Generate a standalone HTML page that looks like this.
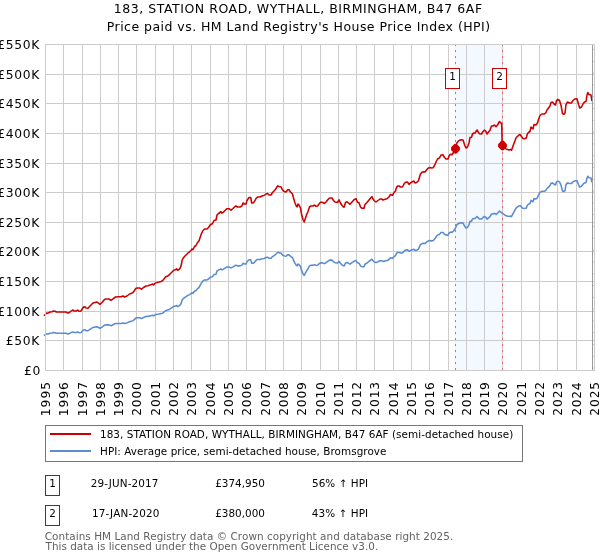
<!DOCTYPE html>
<html lang="en"><head><meta charset="utf-8"><title>183, STATION ROAD, WYTHALL, BIRMINGHAM, B47 6AF</title>
<style>html,body{margin:0;padding:0;background:#fff;}body{width:600px;height:560px;overflow:hidden;}svg{display:block;}text{font-family:"DejaVu Sans", "Liberation Sans", sans-serif;fill:#000;white-space:pre;}</style>
</head><body>
<svg width="600" height="560" viewBox="0 0 600 560">
<rect x="0" y="0" width="600" height="560" fill="#ffffff"/>
<rect x="455" y="45" width="47" height="325" fill="#f4f8ff"/>
<path d="M63.5 44 V371 M82.5 44 V371 M100.5 44 V371 M118.5 44 V371 M136.5 44 V371 M155.5 44 V371 M173.5 44 V371 M191.5 44 V371 M210.5 44 V371 M228.5 44 V371 M246.5 44 V371 M265.5 44 V371 M283.5 44 V371 M301.5 44 V371 M320.5 44 V371 M338.5 44 V371 M356.5 44 V371 M374.5 44 V371 M393.5 44 V371 M411.5 44 V371 M429.5 44 V371 M448.5 44 V371 M466.5 44 V371 M484.5 44 V371 M502.5 44 V371 M521.5 44 V371 M539.5 44 V371 M557.5 44 V371 M576.5 44 V371 M45 340.5 H595 M45 311.5 H595 M45 281.5 H595 M45 251.5 H595 M45 222.5 H595 M45 192.5 H595 M45 163.5 H595 M45 133.5 H595 M45 103.5 H595 M45 74.5 H595" stroke="#cccccc" stroke-width="1" fill="none"/>
<path d="M455.50 43.95 V370" stroke="#f3666d" stroke-width="1" stroke-dasharray="2.2 3.8" fill="none"/>
<path d="M502.50 43.95 V370" stroke="#f3666d" stroke-width="1" stroke-dasharray="2.2 3.8" fill="none"/>
<path d="M44.50 335.23 L46.50 333.82 L48.00 333.95 L50.00 333.18 L52.00 333.05 L53.50 332.54 L55.00 332.67 L56.50 333.18 L60.00 333.18 L66.00 333.18 L68.00 333.95 L70.00 333.18 L72.50 331.90 L74.00 332.54 L76.50 332.54 L77.50 331.90 L79.00 332.67 L81.00 332.54 L83.50 329.97 L85.00 329.85 L86.00 330.62 L88.00 330.74 L90.00 329.33 L93.00 327.41 L95.00 327.03 L97.00 326.77 L98.50 327.54 L100.00 328.24 L102.00 327.09 L104.50 325.17 L106.00 324.85 L109.00 324.85 L111.00 325.68 L113.00 324.72 L115.50 323.56 L118.00 323.44 L121.00 323.44 L123.00 322.92 L124.50 323.56 L127.00 322.92 L129.50 321.64 L131.00 321.38 L133.00 320.68 L134.50 319.40 L136.00 317.92 L137.50 317.79 L139.50 317.79 L141.50 318.56 L143.50 317.47 L146.00 316.51 L148.00 316.38 L150.00 315.87 L151.50 315.55 L152.50 315.23 L153.50 315.81 L155.00 314.85 L157.00 314.21 L159.00 313.95 L161.00 313.63 L162.50 313.18 L164.00 312.03 L165.50 310.74 L167.00 310.23 L168.50 309.85 L170.00 308.82 L172.00 307.54 L174.00 306.26 L175.50 306.13 L176.50 305.49 L177.50 306.45 L179.00 305.94 L180.50 304.65 L181.50 302.41 L182.00 300.17 L183.00 298.88 L184.50 297.60 L186.00 296.64 L188.00 295.36 L189.50 294.59 L191.00 293.76 L192.00 292.79 L193.00 293.31 L194.50 291.19 L196.00 290.55 L197.50 288.63 L199.00 287.60 L200.00 285.62 L201.50 282.86 L203.00 280.94 L204.50 279.97 L207.00 279.97 L208.50 279.01 L210.50 277.09 L212.50 276.64 L214.00 274.53 L216.00 274.21 L217.00 271.00 L218.50 270.04 L220.00 269.40 L220.80 268.76 L221.80 269.85 L223.00 269.40 L225.00 268.12 L227.00 266.96 L229.00 266.96 L231.00 267.92 L233.00 266.83 L235.00 265.55 L236.00 265.23 L237.50 265.87 L240.00 265.87 L242.00 265.10 L243.00 263.31 L244.50 263.95 L246.00 263.95 L247.00 261.71 L249.00 259.78 L250.70 259.78 L251.70 263.31 L253.00 263.31 L254.50 262.35 L256.00 260.42 L257.50 259.46 L260.00 259.46 L262.00 258.82 L264.00 258.50 L266.00 257.54 L267.50 257.22 L269.00 258.18 L271.00 258.18 L272.50 256.58 L274.50 255.29 L276.00 254.01 L277.80 252.28 L279.50 252.92 L281.00 252.92 L282.00 254.33 L283.50 255.62 L285.50 256.26 L286.50 255.94 L287.50 254.85 L289.00 254.85 L290.50 256.26 L292.50 257.54 L293.50 260.10 L295.00 263.31 L296.50 265.55 L297.30 265.74 L298.00 263.95 L299.00 264.59 L300.50 266.51 L301.50 270.36 L303.00 273.88 L304.20 275.49 L305.50 272.92 L306.50 271.00 L308.00 268.76 L309.50 265.87 L311.00 265.23 L313.00 265.23 L314.50 264.59 L316.00 265.42 L317.50 265.23 L319.00 263.95 L320.50 262.86 L322.50 262.86 L324.50 263.63 L326.00 262.67 L328.00 261.06 L329.50 260.10 L332.00 260.10 L333.50 261.71 L335.00 262.67 L337.50 262.99 L339.00 261.26 L340.50 263.31 L342.00 264.91 L344.00 266.06 L345.50 262.99 L347.00 262.54 L348.50 263.31 L350.00 264.14 L352.00 262.67 L354.00 261.26 L356.00 260.55 L357.50 262.86 L359.00 263.18 L360.50 265.87 L361.80 266.71 L364.00 266.71 L365.00 264.27 L367.00 262.99 L369.00 261.38 L371.00 259.78 L372.00 259.27 L373.00 260.74 L374.00 261.71 L376.00 262.67 L378.00 261.71 L380.00 260.74 L381.50 260.74 L383.00 261.38 L385.00 260.94 L387.00 260.55 L389.00 259.46 L390.50 257.86 L392.50 258.37 L394.00 256.58 L395.50 255.62 L396.50 253.37 L397.50 252.41 L399.00 252.41 L400.50 253.05 L402.50 253.05 L404.00 251.13 L405.50 250.04 L407.50 249.85 L409.00 251.32 L411.00 250.17 L413.00 249.53 L414.00 249.21 L415.00 250.49 L417.00 249.97 L418.50 249.08 L419.50 246.64 L420.50 244.72 L422.00 243.56 L423.50 243.31 L425.00 243.44 L426.50 242.15 L428.00 241.06 L430.00 240.55 L431.50 240.87 L433.00 240.74 L434.50 239.27 L436.00 237.03 L437.50 235.10 L439.50 234.33 L441.00 232.54 L443.00 232.41 L444.50 234.14 L446.00 235.10 L448.00 235.10 L449.00 233.18 L450.50 232.09 L452.00 232.35 L453.50 230.94 L455.30 228.44 L456.70 224.97 L458.30 223.69 L459.80 223.05 L461.20 222.79 L463.00 222.92 L464.00 224.85 L465.00 226.77 L466.00 228.05 L467.50 227.41 L469.00 224.85 L470.00 221.32 L471.50 221.19 L472.50 219.08 L474.00 218.44 L475.00 218.44 L477.00 216.51 L478.50 218.12 L479.50 218.95 L481.50 219.08 L483.00 217.47 L484.50 216.51 L486.00 217.47 L487.00 219.08 L488.50 217.79 L490.00 216.71 L491.50 213.95 L493.00 213.95 L494.50 213.31 L496.00 214.40 L497.50 213.31 L499.50 211.06 L501.00 212.03 L501.70 212.79 L504.00 214.36 L506.00 215.76 L509.00 216.45 L510.50 216.10 L511.50 216.66 L513.00 213.66 L514.50 210.86 L516.00 208.06 L517.50 206.87 L519.00 205.97 L520.00 205.62 L521.50 207.01 L523.00 208.34 L524.50 208.55 L526.30 208.06 L527.30 205.27 L528.50 204.22 L530.00 203.52 L531.00 200.37 L532.50 201.42 L533.00 201.77 L534.00 198.62 L536.00 198.97 L537.50 197.57 L538.50 195.13 L540.00 192.33 L542.00 191.28 L544.50 191.28 L546.00 190.23 L547.00 188.48 L548.50 187.08 L550.00 185.69 L551.00 183.24 L552.50 182.89 L554.00 184.29 L555.50 184.99 L556.50 181.84 L558.00 181.14 L559.50 181.84 L561.00 185.13 L562.50 191.00 L563.70 191.49 L565.00 190.72 L566.00 184.64 L567.60 182.89 L569.30 183.59 L571.30 183.59 L573.00 181.84 L574.70 180.79 L577.00 180.65 L578.50 184.50 L579.70 187.08 L581.50 186.38 L583.00 184.29 L584.50 182.89 L586.00 182.54 L587.00 177.99 L587.80 176.24 L589.00 177.64 L591.00 177.99 L591.80 181.70" stroke="#598cd0" stroke-width="1.55" fill="none" stroke-linejoin="round" stroke-linecap="square"/>
<path d="M44.50 315.20 L46.50 313.00 L48.00 313.20 L50.00 312.00 L52.00 311.80 L53.50 311.00 L55.00 311.20 L56.50 312.00 L60.00 312.00 L66.00 312.00 L68.00 313.20 L70.00 312.00 L72.50 310.00 L74.00 311.00 L76.50 311.00 L77.50 310.00 L79.00 311.20 L81.00 311.00 L83.50 307.00 L85.00 306.80 L86.00 308.00 L88.00 308.20 L90.00 306.00 L93.00 303.00 L95.00 302.40 L97.00 302.00 L98.50 303.20 L100.00 304.30 L102.00 302.50 L104.50 299.50 L106.00 299.00 L109.00 299.00 L111.00 300.30 L113.00 298.80 L115.50 297.00 L118.00 296.80 L121.00 296.80 L123.00 296.00 L124.50 297.00 L127.00 296.00 L129.50 294.00 L131.00 293.60 L133.00 292.50 L134.50 290.50 L136.00 288.20 L137.50 288.00 L139.50 288.00 L141.50 289.20 L143.50 287.50 L146.00 286.00 L148.00 285.80 L150.00 285.00 L151.50 284.50 L152.50 284.00 L153.50 284.90 L155.00 283.40 L157.00 282.40 L159.00 282.00 L161.00 281.50 L162.50 280.80 L164.00 279.00 L165.50 277.00 L167.00 276.20 L168.50 275.60 L170.00 274.00 L172.00 272.00 L174.00 270.00 L175.50 269.80 L176.50 268.80 L177.50 270.30 L179.00 269.50 L180.50 267.50 L181.50 264.00 L182.00 260.50 L183.00 258.50 L184.50 256.50 L186.00 255.00 L188.00 253.00 L189.50 251.80 L191.00 250.50 L192.00 249.00 L193.00 249.80 L194.50 246.50 L196.00 245.50 L197.50 242.50 L199.00 240.90 L200.00 237.80 L201.50 233.50 L203.00 230.50 L204.50 229.00 L207.00 229.00 L208.50 227.50 L210.50 224.50 L212.50 223.80 L214.00 220.50 L216.00 220.00 L217.00 215.00 L218.50 213.50 L220.00 212.50 L220.80 211.50 L221.80 213.20 L223.00 212.50 L225.00 210.50 L227.00 208.70 L229.00 208.70 L231.00 210.20 L233.00 208.50 L235.00 206.50 L236.00 206.00 L237.50 207.00 L240.00 207.00 L242.00 205.80 L243.00 203.00 L244.50 204.00 L246.00 204.00 L247.00 200.50 L249.00 197.50 L250.70 197.50 L251.70 203.00 L253.00 203.00 L254.50 201.50 L256.00 198.50 L257.50 197.00 L260.00 197.00 L262.00 196.00 L264.00 195.50 L266.00 194.00 L267.50 193.50 L269.00 195.00 L271.00 195.00 L272.50 192.50 L274.50 190.50 L276.00 188.50 L277.80 185.80 L279.50 186.80 L281.00 186.80 L282.00 189.00 L283.50 191.00 L285.50 192.00 L286.50 191.50 L287.50 189.80 L289.00 189.80 L290.50 192.00 L292.50 194.00 L293.50 198.00 L295.00 203.00 L296.50 206.50 L297.30 206.80 L298.00 204.00 L299.00 205.00 L300.50 208.00 L301.50 214.00 L303.00 219.50 L304.20 222.00 L305.50 218.00 L306.50 215.00 L308.00 211.50 L309.50 207.00 L311.00 206.00 L313.00 206.00 L314.50 205.00 L316.00 206.30 L317.50 206.00 L319.00 204.00 L320.50 202.30 L322.50 202.30 L324.50 203.50 L326.00 202.00 L328.00 199.50 L329.50 198.00 L332.00 198.00 L333.50 200.50 L335.00 202.00 L337.50 202.50 L339.00 199.80 L340.50 203.00 L342.00 205.50 L344.00 207.30 L345.50 202.50 L347.00 201.80 L348.50 203.00 L350.00 204.30 L352.00 202.00 L354.00 199.80 L356.00 198.70 L357.50 202.30 L359.00 202.80 L360.50 207.00 L361.80 208.30 L364.00 208.30 L365.00 204.50 L367.00 202.50 L369.00 200.00 L371.00 197.50 L372.00 196.70 L373.00 199.00 L374.00 200.50 L376.00 202.00 L378.00 200.50 L380.00 199.00 L381.50 199.00 L383.00 200.00 L385.00 199.30 L387.00 198.70 L389.00 197.00 L390.50 194.50 L392.50 195.30 L394.00 192.50 L395.50 191.00 L396.50 187.50 L397.50 186.00 L399.00 186.00 L400.50 187.00 L402.50 187.00 L404.00 184.00 L405.50 182.30 L407.50 182.00 L409.00 184.30 L411.00 182.50 L413.00 181.50 L414.00 181.00 L415.00 183.00 L417.00 182.20 L418.50 180.80 L419.50 177.00 L420.50 174.00 L422.00 172.20 L423.50 171.80 L425.00 172.00 L426.50 170.00 L428.00 168.30 L430.00 167.50 L431.50 168.00 L433.00 167.80 L434.50 165.50 L436.00 162.00 L437.50 159.00 L439.50 157.80 L441.00 155.00 L443.00 154.80 L444.50 157.50 L446.00 159.00 L448.00 159.00 L449.00 156.00 L450.50 154.30 L452.00 154.70 L453.50 152.50 L455.30 148.60 L456.70 143.20 L458.30 141.20 L459.80 140.20 L461.20 139.80 L463.00 140.00 L464.00 143.00 L465.00 146.00 L466.00 148.00 L467.50 147.00 L469.00 143.00 L470.00 137.50 L471.50 137.30 L472.50 134.00 L474.00 133.00 L475.00 133.00 L477.00 130.00 L478.50 132.50 L479.50 133.80 L481.50 134.00 L483.00 131.50 L484.50 130.00 L486.00 131.50 L487.00 134.00 L488.50 132.00 L490.00 130.30 L491.50 126.00 L493.00 126.00 L494.50 125.00 L496.00 126.70 L497.50 125.00 L499.50 121.50 L501.00 123.00 L501.70 124.20 L502.10 141.00 L502.50 145.30 L504.00 147.00 L506.00 149.00 L509.00 150.00 L510.50 149.50 L511.50 150.30 L513.00 146.00 L514.50 142.00 L516.00 138.00 L517.50 136.30 L519.00 135.00 L520.00 134.50 L521.50 136.50 L523.00 138.40 L524.50 138.70 L526.30 138.00 L527.30 134.00 L528.50 132.50 L530.00 131.50 L531.00 127.00 L532.50 128.50 L533.00 129.00 L534.00 124.50 L536.00 125.00 L537.50 123.00 L538.50 119.50 L540.00 115.50 L542.00 114.00 L544.50 114.00 L546.00 112.50 L547.00 110.00 L548.50 108.00 L550.00 106.00 L551.00 102.50 L552.50 102.00 L554.00 104.00 L555.50 105.00 L556.50 100.50 L558.00 99.50 L559.50 100.50 L561.00 105.20 L562.50 113.60 L563.70 114.30 L565.00 113.20 L566.00 104.50 L567.60 102.00 L569.30 103.00 L571.30 103.00 L573.00 100.50 L574.70 99.00 L577.00 98.80 L578.50 104.30 L579.70 108.00 L581.50 107.00 L583.00 104.00 L584.50 102.00 L586.00 101.50 L587.00 95.00 L587.80 92.50 L589.00 94.50 L591.00 95.00 L591.80 100.30" stroke="#cc0000" stroke-width="1.55" fill="none" stroke-linejoin="round" stroke-linecap="square"/>
<path d="M592.5 45 V370" stroke="#999999" stroke-width="1" fill="none"/>
<path d="M593 49.5 H594 M593 61.3 H594 M593 73.1 H594 M593 84.9 H594 M593 96.7 H594 M593 108.5 H594 M593 120.3 H594 M593 132.1 H594 M593 143.9 H594 M593 155.7 H594 M593 167.5 H594 M593 179.3 H594 M593 191.1 H594 M593 202.9 H594 M593 214.7 H594 M593 226.5 H594 M593 238.3 H594 M593 250.1 H594 M593 261.9 H594 M593 273.7 H594 M593 285.5 H594 M593 297.3 H594 M593 309.1 H594 M593 320.9 H594 M593 332.7 H594 M593 344.5 H594 M593 356.3 H594 M593 368.1 H594" stroke="#cccccc" stroke-width="1" fill="none"/>
<rect x="45.5" y="44.5" width="549" height="326" fill="none" stroke="#cccccc" stroke-width="1"/>
<polygon points="451.05,147.35 454.30,143.90 456.70,143.90 459.95,147.35 459.95,149.95 456.70,153.40 454.30,153.40 451.05,149.95" fill="#cc0000"/>
<polygon points="498.05,144.20 501.30,140.75 503.70,140.75 506.95,144.20 506.95,146.80 503.70,150.25 501.30,150.25 498.05,146.80" fill="#cc0000"/>
<rect x="445.50" y="68.50" width="14" height="20" fill="#ffffff" stroke="#cc0000" stroke-width="1"/>
<text x="452.50" y="80.10" font-size="10.42" text-anchor="middle">1</text>
<rect x="492.50" y="68.50" width="14" height="20" fill="#ffffff" stroke="#cc0000" stroke-width="1"/>
<text x="499.50" y="80.10" font-size="10.42" text-anchor="middle">2</text>
<text x="113.75" y="13.00" font-size="12.5" letter-spacing="0.538">183, STATION ROAD, WYTHALL, BIRMINGHAM, B47 6AF</text>
<text x="106.75" y="30.50" font-size="12.5" letter-spacing="0.464">Price paid vs. HM Land Registry's House Price Index (HPI)</text>
<text x="24.07" y="375.05" font-size="12.3" letter-spacing="0.683">£0</text>
<text x="5.70" y="345.05" font-size="12.3" letter-spacing="0.683">£50K</text>
<text x="-2.73" y="316.05" font-size="12.3" letter-spacing="0.683">£100K</text>
<text x="-2.73" y="286.05" font-size="12.3" letter-spacing="0.683">£150K</text>
<text x="-2.73" y="256.05" font-size="12.3" letter-spacing="0.683">£200K</text>
<text x="-2.73" y="227.05" font-size="12.3" letter-spacing="0.683">£250K</text>
<text x="-2.73" y="197.05" font-size="12.3" letter-spacing="0.683">£300K</text>
<text x="-2.73" y="168.05" font-size="12.3" letter-spacing="0.683">£350K</text>
<text x="-2.73" y="138.05" font-size="12.3" letter-spacing="0.683">£400K</text>
<text x="-2.73" y="108.05" font-size="12.3" letter-spacing="0.683">£450K</text>
<text x="-2.73" y="79.05" font-size="12.3" letter-spacing="0.683">£500K</text>
<text x="-2.73" y="49.05" font-size="12.3" letter-spacing="0.683">£550K</text>
<text transform="translate(50.05 415.00) rotate(-90)" x="-1.25" y="0" font-size="12.3" letter-spacing="1.050">1995</text>
<text transform="translate(68.05 415.00) rotate(-90)" x="-1.25" y="0" font-size="12.3" letter-spacing="0.967">1996</text>
<text transform="translate(87.05 415.00) rotate(-90)" x="-1.25" y="0" font-size="12.3" letter-spacing="1.050">1997</text>
<text transform="translate(105.05 415.00) rotate(-90)" x="-1.25" y="0" font-size="12.3" letter-spacing="0.967">1998</text>
<text transform="translate(123.05 415.00) rotate(-90)" x="-1.25" y="0" font-size="12.3" letter-spacing="0.967">1999</text>
<text transform="translate(141.05 415.00) rotate(-90)" x="-0.75" y="0" font-size="12.3" letter-spacing="0.800">2000</text>
<text transform="translate(160.05 415.00) rotate(-90)" x="-0.75" y="0" font-size="12.3" letter-spacing="0.883">2001</text>
<text transform="translate(178.05 415.00) rotate(-90)" x="-0.75" y="0" font-size="12.3" letter-spacing="0.883">2002</text>
<text transform="translate(196.05 415.00) rotate(-90)" x="-0.75" y="0" font-size="12.3" letter-spacing="0.883">2003</text>
<text transform="translate(215.05 415.00) rotate(-90)" x="-0.75" y="0" font-size="12.3" letter-spacing="0.717">2004</text>
<text transform="translate(233.05 415.00) rotate(-90)" x="-0.75" y="0" font-size="12.3" letter-spacing="0.883">2005</text>
<text transform="translate(251.05 415.00) rotate(-90)" x="-0.75" y="0" font-size="12.3" letter-spacing="0.800">2006</text>
<text transform="translate(270.05 415.00) rotate(-90)" x="-0.75" y="0" font-size="12.3" letter-spacing="0.883">2007</text>
<text transform="translate(288.05 415.00) rotate(-90)" x="-0.75" y="0" font-size="12.3" letter-spacing="0.800">2008</text>
<text transform="translate(306.05 415.00) rotate(-90)" x="-0.75" y="0" font-size="12.3" letter-spacing="0.800">2009</text>
<text transform="translate(325.05 415.00) rotate(-90)" x="-0.75" y="0" font-size="12.3" letter-spacing="0.800">2010</text>
<text transform="translate(343.05 415.00) rotate(-90)" x="-0.75" y="0" font-size="12.3" letter-spacing="0.883">2011</text>
<text transform="translate(361.05 415.00) rotate(-90)" x="-0.75" y="0" font-size="12.3" letter-spacing="0.883">2012</text>
<text transform="translate(379.05 415.00) rotate(-90)" x="-0.75" y="0" font-size="12.3" letter-spacing="0.883">2013</text>
<text transform="translate(398.05 415.00) rotate(-90)" x="-0.75" y="0" font-size="12.3" letter-spacing="0.717">2014</text>
<text transform="translate(416.05 415.00) rotate(-90)" x="-0.75" y="0" font-size="12.3" letter-spacing="0.883">2015</text>
<text transform="translate(434.05 415.00) rotate(-90)" x="-0.75" y="0" font-size="12.3" letter-spacing="0.800">2016</text>
<text transform="translate(453.05 415.00) rotate(-90)" x="-0.75" y="0" font-size="12.3" letter-spacing="0.883">2017</text>
<text transform="translate(471.05 415.00) rotate(-90)" x="-0.75" y="0" font-size="12.3" letter-spacing="0.800">2018</text>
<text transform="translate(489.05 415.00) rotate(-90)" x="-0.75" y="0" font-size="12.3" letter-spacing="0.800">2019</text>
<text transform="translate(507.05 415.00) rotate(-90)" x="-0.75" y="0" font-size="12.3" letter-spacing="0.800">2020</text>
<text transform="translate(526.05 415.00) rotate(-90)" x="-0.75" y="0" font-size="12.3" letter-spacing="0.883">2021</text>
<text transform="translate(544.05 415.00) rotate(-90)" x="-0.75" y="0" font-size="12.3" letter-spacing="0.883">2022</text>
<text transform="translate(562.05 415.00) rotate(-90)" x="-0.75" y="0" font-size="12.3" letter-spacing="0.883">2023</text>
<text transform="translate(581.05 415.00) rotate(-90)" x="-0.75" y="0" font-size="12.3" letter-spacing="0.717">2024</text>
<text transform="translate(599.05 415.00) rotate(-90)" x="-0.75" y="0" font-size="12.3" letter-spacing="0.883">2025</text>
<rect x="45.5" y="425.5" width="477" height="36" fill="#ffffff" stroke="#777777" stroke-width="1"/>
<path d="M50 434 H91" stroke="#cc0000" stroke-width="1.8" fill="none"/>
<path d="M50 451 H91" stroke="#598cd0" stroke-width="1.8" fill="none"/>
<text x="100.00" y="438.00" font-size="10.42" letter-spacing="0.054">183, STATION ROAD, WYTHALL, BIRMINGHAM, B47 6AF (semi-detached house)</text>
<text x="100.00" y="454.70" font-size="10.42" letter-spacing="0.050">HPI: Average price, semi-detached house, Bromsgrove</text>
<rect x="45.5" y="475.50" width="14" height="20" fill="#ffffff" stroke="#cc0000" stroke-width="1"/>
<text x="52.5" y="486.90" font-size="10.42" text-anchor="middle">1</text>
<text x="90.85" y="486.90" font-size="10.42" letter-spacing="0.125">29-JUN-2017</text>
<text x="215.20" y="486.90" font-size="10.42" letter-spacing="0.014">£374,950</text>
<text x="311.95" y="486.90" font-size="10.42" letter-spacing="0.075">56% ↑ HPI</text>
<rect x="45.5" y="505.50" width="14" height="20" fill="#ffffff" stroke="#cc0000" stroke-width="1"/>
<text x="52.5" y="516.90" font-size="10.42" text-anchor="middle">2</text>
<text x="92.00" y="516.90" font-size="10.42" letter-spacing="0.175">17-JAN-2020</text>
<text x="215.20" y="516.90" font-size="10.42" letter-spacing="0.014">£380,000</text>
<text x="311.80" y="516.90" font-size="10.42" letter-spacing="0.094">43% ↑ HPI</text>
<text x="44.80" y="539.70" font-size="10.42" letter-spacing="0.051" style="fill:#626262">Contains HM Land Registry data © Crown copyright and database right 2025.</text>
<text x="45.50" y="549.90" font-size="10.42" letter-spacing="0.020" style="fill:#626262">This data is licensed under the Open Government Licence v3.0.</text>
</svg>
</body></html>
